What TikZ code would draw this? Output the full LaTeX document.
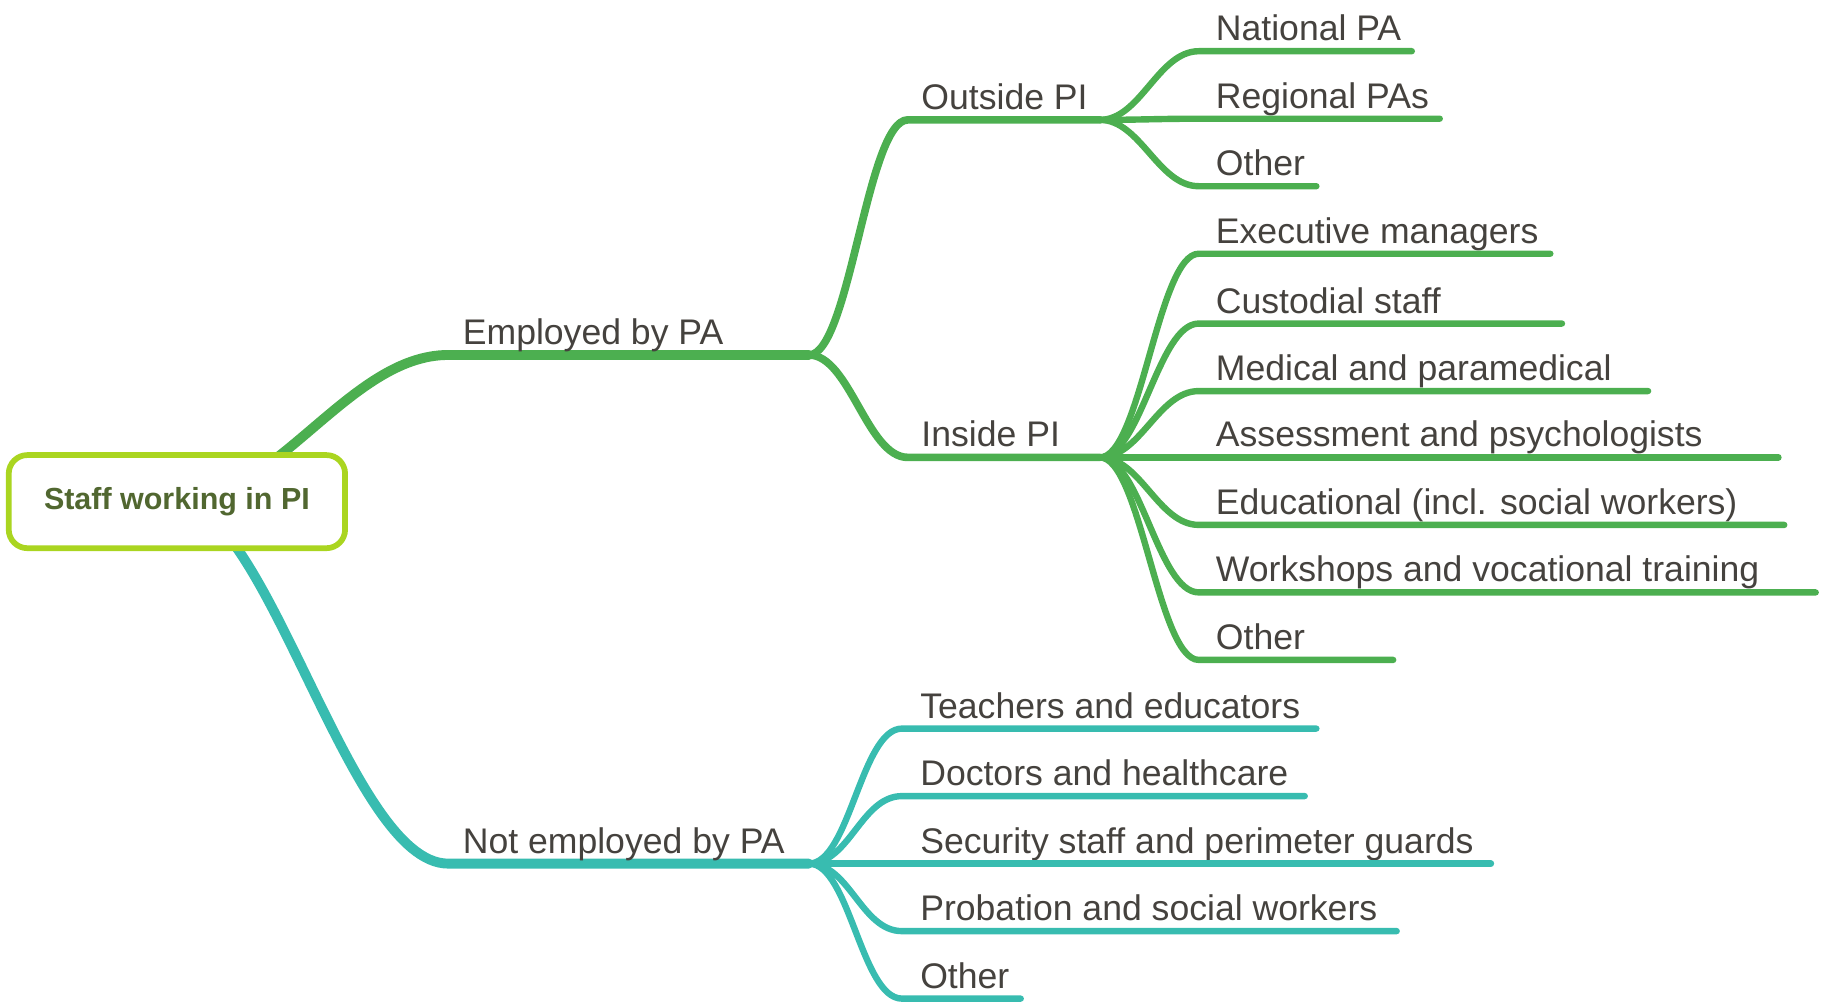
\documentclass[tikz,border=0pt]{standalone}
\usepackage{fontspec}
\setmainfont{Liberation Sans}
\usetikzlibrary{backgrounds}
\definecolor{twiggreen}{HTML}{4CAF50}
\definecolor{twigteal}{HTML}{38BCB0}
\definecolor{rootlime}{HTML}{AAD520}
\definecolor{rootolive}{HTML}{516730}
\definecolor{leafgray}{HTML}{45423E}
\tikzset{
  root/.style = {draw=rootlime, line width=1.4pt, rounded corners=1.6mm,
                 fill=white, minimum width=28.9mm, minimum height=8mm,
                 text=rootolive, font=\fontsize{7.45}{9}\selectfont\bfseries},
  leaf/.style = {anchor=base west, inner sep=0, text=leafgray,
                 font=\fontsize{8.7}{10}\selectfont},
  trunk/.style = {line width=0.85mm, line cap=round},
  bough/.style = {line width=0.66mm, line cap=round},
  twig/.style = {line width=0.55mm, line cap=round},
}
\begin{document}
\begin{tikzpicture}[x=0.1mm, y=-0.1mm]
\useasboundingbox (0,0) rectangle (1568,863);
\node[root] (root) at (152,431) {Staff working in PI};

% main branches
\coordinate (emp-s) at (385,305);
\coordinate (emp-e) at (695,305);
\coordinate (nemp-s) at (385,742);
\coordinate (nemp-e) at (695,742);
\node[leaf] (emp) at (397,296) {Employed by PA};
\node[leaf] (nemp) at (397,733) {Not employed by PA};

% second level
\coordinate (outpi-s) at (780,103);
\coordinate (outpi-e) at (945,103);
\coordinate (inpi-s) at (780,393);
\coordinate (inpi-e) at (945,393);
\node[leaf] (outpi) at (791,94) {Outside PI};
\node[leaf] (inpi) at (791,384) {Inside PI};

\begin{scope}[on background layer]
\draw[trunk, twiggreen] (root.center) .. controls +(85,0) and +(-85,0) .. (emp-s) -- (emp-e);
\draw[trunk, twigteal] (root.center) .. controls +(78,0) and +(-85,0) .. (nemp-s) -- (nemp-e);
\draw[bough, twiggreen] (emp-e) .. controls +(35,0) and +(-35,0) .. (outpi-s) -- (outpi-e);
\draw[bough, twiggreen] (emp-e) .. controls +(35,0) and +(-35,0) .. (inpi-s) -- (inpi-e);
\end{scope}

% leaves of Outside PI
\foreach \y/\e/\t [count=\i] in {44/1213/National PA, 102/1237/Regional PAs, 160/1131/Other}{
  \coordinate (o\i-s) at (1030,\y);
  \coordinate (o\i-e) at (\e,\y);
  \node[leaf] (o\i) at (1044,\y-9) {\t};
  \draw[twig, twiggreen] (outpi-e) .. controls +(35,0) and +(-35,0) .. (o\i-s) -- (o\i-e);
}

% leaves of Inside PI
\foreach \y/\e/\t [count=\i] in {218/1332/Executive managers, 278/1342/Custodial staff,
    336/1416/Medical and paramedical, 393/1528/Assessment and psychologists,
    451/1533/{Educational (incl. social workers)}, 509/1560/Workshops and vocational training,
    567/1197/Other}{
  \coordinate (n\i-s) at (1030,\y);
  \coordinate (n\i-e) at (\e,\y);
  \node[leaf] (n\i) at (1044,\y-9) {\t};
  \draw[twig, twiggreen] (inpi-e) .. controls +(35,0) and +(-35,0) .. (n\i-s) -- (n\i-e);
}

% leaves of Not employed by PA
\foreach \y/\e/\t [count=\i] in {626/1131/Teachers and educators, 684/1121/Doctors and healthcare,
    742/1281/Security staff and perimeter guards, 800/1200/Probation and social workers,
    858/877/Other}{
  \coordinate (x\i-s) at (775,\y);
  \coordinate (x\i-e) at (\e,\y);
  \node[leaf] (x\i) at (790,\y-9) {\t};
  \draw[twig, twigteal] (nemp-e) .. controls +(35,0) and +(-35,0) .. (x\i-s) -- (x\i-e);
}
\end{tikzpicture}
\end{document}
